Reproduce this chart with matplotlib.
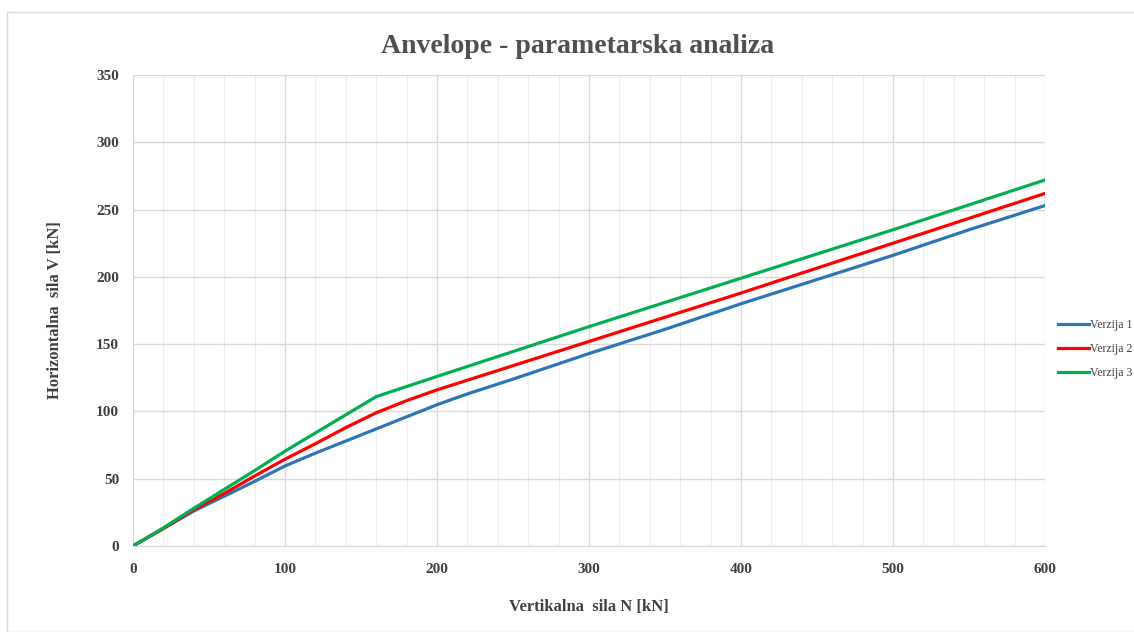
import numpy as np
import matplotlib.pyplot as plt
from matplotlib.patches import Rectangle

# Data
n_v1 = [0, 20, 40, 60, 80, 100, 120, 140, 160, 180, 200, 220, 250, 300, 350, 400, 450, 500, 550, 600]
v_v1 = [0, 13, 26, 37, 48, 59.5, 69, 78, 87, 96, 105, 113, 124, 143, 161, 180, 198, 216, 235, 253]

n_v2 = [0, 20, 40, 60, 80, 100, 120, 140, 160, 180, 200, 250, 300, 400, 500, 600]
v_v2 = [0, 13, 27, 39, 52, 64.5, 76, 88, 99, 108, 116, 134, 152, 188, 225, 262]

n_v3 = [0, 20, 40, 60, 80, 100, 120, 140, 160, 200, 300, 400, 500, 600]
v_v3 = [0, 13.5, 28, 42, 56, 70.5, 84, 97.5, 111, 126, 163, 199, 235, 272]

labels = ['Verzija 1', 'Verzija 2', 'Verzija 3']
colors = ['#2E75B6', '#FF0000', '#00B050']

plt.rcParams['font.family'] = ['Liberation Serif', 'DejaVu Serif']

fig = plt.figure(figsize=(11.34, 6.32), dpi=100)
ax = fig.add_axes([0.1173, 0.1361, 0.8042, 0.7452])

# Chart border
fig.patches.append(Rectangle((7 / 1134, 0), 1.2, (632 - 12) / 632, transform=fig.transFigure,
                             fill=False, edgecolor='#d9d9d9', linewidth=1))

for n, v, lab, c in zip([n_v1, n_v2, n_v3], [v_v1, v_v2, v_v3], labels, colors):
    ax.plot(n, v, color=c, linewidth=2.3, label=lab, zorder=3)

ax.set_xlim(0, 600)
ax.set_ylim(0, 350)
ax.set_xticks(np.arange(0, 601, 100))
ax.set_xticks(np.arange(0, 601, 20), minor=True)
ax.set_yticks(np.arange(0, 351, 50))
ax.grid(which='major', color='#d9d9d9', linewidth=1)
ax.grid(which='minor', axis='x', color='#eeeeee', linewidth=0.8)
ax.set_axisbelow(True)
for s in ['top', 'right', 'left']:
    ax.spines[s].set_visible(False)
ax.spines['bottom'].set_color('#d9d9d9')
ax.tick_params(which='both', length=0)
ax.tick_params(axis='y', pad=10)
ax.tick_params(axis='x', pad=12)
for t in ax.get_xticklabels() + ax.get_yticklabels():
    t.set_fontsize(11)
    t.set_fontweight('bold')
    t.set_color('#404040')

ax.set_title('Anvelope - parametarska analiza', fontsize=20, fontweight='bold',
             color='#505050', pad=16, x=0.487)
ax.set_xlabel('Vertikalna  sila N [kN]', fontsize=12, fontweight='bold', color='#404040', labelpad=17)
ax.set_ylabel('Horizontalna  sila V [kN]', fontsize=12, fontweight='bold', color='#404040', labelpad=24)

fig.legend(loc='center left', bbox_to_anchor=(1050 / 1134, 1 - 349 / 632), frameon=False,
           fontsize=8.5, handlelength=2.6, handletextpad=0.05, labelspacing=1.0,
           borderpad=0.2, labelcolor='#404040')

fig.savefig('out.png', dpi=100)
